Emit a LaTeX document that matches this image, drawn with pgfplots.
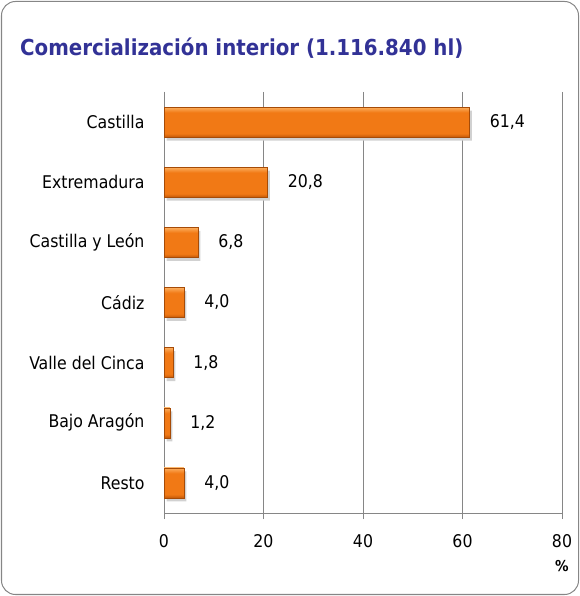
\documentclass[border=0pt]{standalone}
\usepackage{pgfplots}
\pgfplotsset{compat=1.18}
\usepackage{fontspec}
\setmainfont{DejaVu Sans Condensed}
\definecolor{titleblue}{RGB}{50,50,150}
\definecolor{barmid}{RGB}{241,121,21}
\definecolor{bartop}{RGB}{252,175,95}
\definecolor{barbot}{RGB}{195,88,8}
\definecolor{gridgray}{RGB}{134,134,134}
\pgfdeclareverticalshading{barshade}{100bp}{color(0bp)=(barbot); color(25bp)=(barbot); color(31bp)=(barmid); color(66bp)=(barmid); color(75bp)=(bartop); color(100bp)=(bartop)}
\begin{document}
\begin{tikzpicture}[x=1bp,y=1bp]
\path[use as bounding box] (0,0) rectangle (580,596);
\draw[gridgray, line width=1bp, rounded corners=14bp] (1.5,1.5) rectangle (578.5,594.5);
\node[anchor=west, text=titleblue, font=\fontsize{22bp}{25bp}\selectfont\bfseries, inner sep=0pt] at (20,548) {Comercialización interior (1.116.840 hl)};
\begin{axis}[
  at={(164bp,83bp)}, anchor=south west,
  scale only axis, width=398bp, height=421bp,
  xbar, bar width=30bp, bar shift=0pt,
  xmin=0, xmax=80, ymin=-0.5, ymax=6.5, y dir=reverse,
  axis lines=left, axis line style={gridgray, line width=0.8bp, -},
  xtick={0,20,40,60,80},
  xmajorgrids, grid style={gridgray, line width=0.8bp},
  tick align=outside, major tick length=6bp,
  tick style={gridgray, line width=0.8bp},
  ytick={0,...,6}, ytick style={draw=none},
  yticklabels={Castilla, Extremadura, Castilla y León, Cádiz, Valle del Cinca, Bajo Aragón, Resto},
  extra y ticks={-0.5,0.5,1.5,2.5,3.5,4.5,5.5},
  extra y tick labels={},
  extra y tick style={grid=none, major tick length=6bp, tick style={gridgray, line width=0.8bp}},
  ticklabel style={font=\fontsize{17.5bp}{20bp}\selectfont, text=black},
  yticklabel style={xshift=-10bp},
  xticklabel style={yshift=-12bp},
  /pgf/number format/assume math mode=true,
  xlabel={\%}, xlabel style={at={(axis description cs:1,0)}, anchor=north, yshift=-44bp, font=\fontsize{15bp}{18bp}\selectfont\bfseries},
  point meta=explicit symbolic,
  nodes near coords style={anchor=west, xshift=17bp, font=\fontsize{17.5bp}{20bp}\selectfont, text=black},
  barstyle/.style={draw=barbot!85!black, line width=0.3bp, shade, shading=barshade, nodes near coords},
  shadowstyle/.style={fill=black!18, draw=none, transform canvas={shift={(2.5bp,-3.5bp)}}},
]
\addplot[shadowstyle] coordinates {(61.4,0) (20.8,1) (6.8,2) (4.0,3) (1.8,4) (1.2,5) (4.0,6)};
\addplot[barstyle] coordinates {(61.4,0) [{61,4}]};
\addplot[barstyle] coordinates {(20.8,1) [{20,8}]};
\addplot[barstyle] coordinates {(6.8,2) [{6,8}]};
\addplot[barstyle] coordinates {(4.0,3) [{4,0}]};
\addplot[barstyle] coordinates {(1.8,4) [{1,8}]};
\addplot[barstyle] coordinates {(1.2,5) [{1,2}]};
\addplot[barstyle] coordinates {(4.0,6) [{4,0}]};
\end{axis}
\end{tikzpicture}
\end{document}
